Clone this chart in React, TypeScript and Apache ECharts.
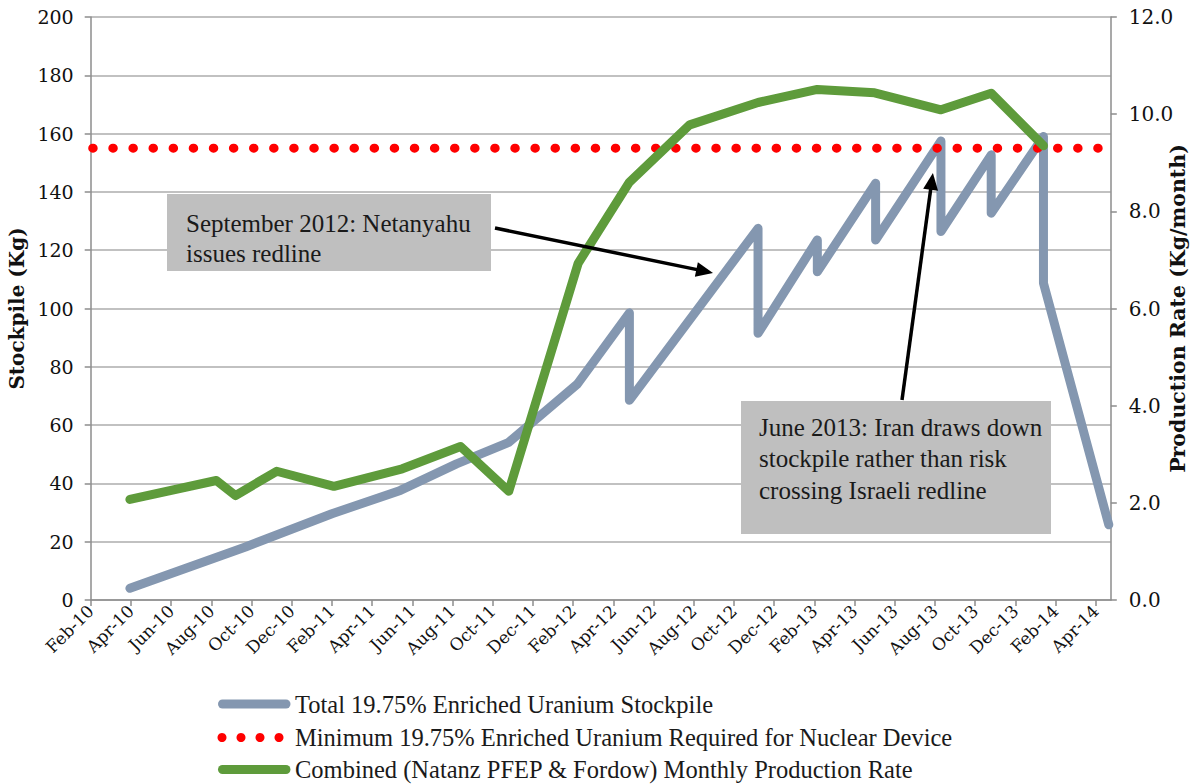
import React, { useEffect, useRef } from 'react';
import * as echarts from 'echarts';

// x positions are months elapsed since Feb-2010
const tickLabels = [
  'Feb-10', 'Apr-10', 'Jun-10', 'Aug-10', 'Oct-10', 'Dec-10',
  'Feb-11', 'Apr-11', 'Jun-11', 'Aug-11', 'Oct-11', 'Dec-11',
  'Feb-12', 'Apr-12', 'Jun-12', 'Aug-12', 'Oct-12', 'Dec-12',
  'Feb-13', 'Apr-13', 'Jun-13', 'Aug-13', 'Oct-13', 'Dec-13',
  'Feb-14', 'Apr-14',
];

const stockMonths = [1.95, 7.7, 12.0, 15.4, 18.2, 20.8, 24.2, 26.8, 26.8, 33.2, 33.2, 36.15, 36.15, 39.05, 39.05, 42.3, 42.3, 44.8, 44.8, 47.4, 47.4, 50.65];
const stockKg = [4.0, 18.2, 29.6, 37.6, 46.7, 54.1, 74.0, 98.5, 68.5, 127.5, 91.5, 123.5, 112.6, 143.0, 123.5, 157.5, 126.4, 152.7, 132.7, 159.0, 108.7, 25.8];

const rateMonths = [1.95, 6.25, 7.2, 9.25, 12.1, 15.5, 18.4, 20.8, 24.25, 26.8, 29.8, 33.2, 36.15, 39.0, 42.3, 44.8, 47.4];
const rateKgMonth = [2.07, 2.46, 2.15, 2.65, 2.34, 2.70, 3.16, 2.24, 6.93, 8.60, 9.78, 10.24, 10.51, 10.44, 10.09, 10.43, 9.35];

const thresholdMonths = [0, 50.75];
const thresholdKg = [155, 155];

const seriesNames = [
  'Total 19.75% Enriched Uranium Stockpile',
  'Minimum 19.75% Enriched Uranium Required for Nuclear Device',
  'Combined (Natanz PFEP & Fordow) Monthly Production Rate',
];

const annotation1 = ['September 2012: Netanyahu', 'issues redline'];
const annotation2 = ['June 2013: Iran draws down', 'stockpile rather than risk', 'crossing Israeli redline'];

const BLUE = '#8497B0';
const RED = '#FF0000';
const GREEN = '#5E9B3B';
const SERIF = 'Liberation Serif';
const AXISFONT = 'DejaVu Serif';

function zip(xs: number[], ys: number[]) {
  return xs.map((x, i) => [x, ys[i]]);
}

function arrow(from: number[], tip: number[], len = 17, half = 7.5) {
  const dx = tip[0] - from[0];
  const dy = tip[1] - from[1];
  const d = Math.sqrt(dx * dx + dy * dy);
  const ux = dx / d;
  const uy = dy / d;
  const bx = tip[0] - ux * len;
  const by = tip[1] - uy * len;
  return [
    {
      type: 'line',
      shape: { x1: from[0], y1: from[1], x2: bx + ux * 2, y2: by + uy * 2 },
      style: { stroke: '#000', lineWidth: 3.5 },
      z: 100,
    },
    {
      type: 'polygon',
      shape: {
        points: [
          [tip[0], tip[1]],
          [bx - uy * half, by + ux * half],
          [bx + uy * half, by - ux * half],
        ],
      },
      style: { fill: '#000' },
      z: 100,
    },
  ];
}

function textLines(lines: string[], x: number, y0: number, step: number) {
  return lines.map((t, i) => ({
    type: 'text',
    z: 101,
    style: {
      text: t,
      x,
      y: y0 + i * step,
      fill: '#1a1a1a',
      fontSize: 25,
      fontFamily: SERIF,
      textAlign: 'left',
      textVerticalAlign: 'middle',
      align: 'left',
      verticalAlign: 'middle',
    },
  }));
}

export default function App() {
  const ref = useRef<HTMLDivElement>(null);

  useEffect(() => {
    if (!ref.current) return;
    const chart = echarts.init(ref.current, undefined, { renderer: 'svg' });

    const option: any = {
      animation: false,
      backgroundColor: '#fff',
      textStyle: { fontFamily: AXISFONT },
      grid: { left: 90.7, right: 83.2, top: 17, bottom: 184, containLabel: false, outerBoundsMode: 'none' },
      xAxis: {
        type: 'value',
        min: 0,
        max: 50.75,
        interval: 2,
        splitLine: { show: false },
        axisLine: { show: true, lineStyle: { color: '#8C8C8C', width: 1.5 } },
        axisTick: { show: true, length: 6, lineStyle: { color: '#8C8C8C', width: 1.5 } },
        axisLabel: {
          rotate: 45,
          margin: 8,
          fontFamily: AXISFONT,
          fontSize: 17,
          color: '#111',
          showMaxLabel: false,
          formatter: (v: number) => {
            const i = Math.round(v / 2);
            return Math.abs(v - i * 2) < 1e-6 && i < tickLabels.length ? tickLabels[i] : '';
          },
        },
      },
      yAxis: [
        {
          type: 'value',
          min: 0,
          max: 200,
          interval: 20,
          position: 'left',
          name: 'Stockpile (Kg)',
          nameLocation: 'middle',
          nameRotate: 90,
          nameGap: 62,
          nameTextStyle: { fontFamily: AXISFONT, fontWeight: 'bold', fontSize: 20, color: '#111' },
          axisLine: { show: true, lineStyle: { color: '#8C8C8C', width: 1.5 } },
          axisTick: { show: true, length: 6, lineStyle: { color: '#8C8C8C', width: 1.5 } },
          splitLine: { show: true, lineStyle: { color: '#ADADAD', width: 1.5 } },
          axisLabel: { margin: 17, fontFamily: AXISFONT, fontSize: 19, color: '#111' },
        },
        {
          type: 'value',
          min: 0,
          max: 12,
          interval: 2,
          position: 'right',
          name: 'Production Rate (Kg/month)',
          nameLocation: 'middle',
          nameRotate: 90,
          nameGap: 57,
          nameMoveOverlap: false,
          nameTextStyle: { fontFamily: AXISFONT, fontWeight: 'bold', fontSize: 20.5, color: '#111' },
          axisLine: { show: true, lineStyle: { color: '#8C8C8C', width: 1.5 } },
          axisTick: { show: true, length: 6, lineStyle: { color: '#8C8C8C', width: 1.5 } },
          splitLine: { show: false },
          axisLabel: {
            margin: 18,
            fontFamily: AXISFONT,
            fontSize: 20,
            color: '#111',
            formatter: (v: number) => v.toFixed(1),
          },
        },
      ],
      series: [
        {
          name: seriesNames[0],
          type: 'line',
          yAxisIndex: 0,
          data: zip(stockMonths, stockKg),
          symbol: 'none',
          z: 2,
          lineStyle: { color: BLUE, width: 9, cap: 'round', join: 'round' },
        },
        {
          name: seriesNames[1],
          type: 'line',
          yAxisIndex: 0,
          data: zip(thresholdMonths, thresholdKg),
          symbol: 'none',
          z: 3,
          lineStyle: { color: RED, width: 9, type: [0.5, 19.6], cap: 'round', dashOffset: -2.5 },
        },
        {
          name: seriesNames[2],
          type: 'line',
          yAxisIndex: 1,
          data: zip(rateMonths, rateKgMonth),
          symbol: 'none',
          z: 4,
          lineStyle: { color: GREEN, width: 9, cap: 'round', join: 'round' },
        },
      ],
    };

    chart.setOption(option);

    const tip1 = chart.convertToPixel({ xAxisIndex: 0, yAxisIndex: 0 }, [30.96, 112.2]) as number[];
    const tip2 = chart.convertToPixel({ xAxisIndex: 0, yAxisIndex: 0 }, [41.9, 146.5]) as number[];

    const legendRows = [704, 737.5, 769.5];
    const legendGraphics: any[] = [
      {
        type: 'line',
        shape: { x1: 222.5, y1: legendRows[0], x2: 286, y2: legendRows[0] },
        style: { stroke: BLUE, lineWidth: 9, lineCap: 'round' },
      },
      ...[222, 241, 260, 279].map((cx) => ({
        type: 'circle',
        shape: { cx, cy: legendRows[1], r: 4.5 },
        style: { fill: RED },
      })),
      {
        type: 'line',
        shape: { x1: 222.5, y1: legendRows[2], x2: 286, y2: legendRows[2] },
        style: { stroke: GREEN, lineWidth: 9, lineCap: 'round' },
      },
      ...seriesNames.map((n, i) => ({
        type: 'text',
        style: {
          text: n,
          x: 295,
          y: legendRows[i],
          fill: '#1a1a1a',
          fontSize: 24.5,
          fontFamily: SERIF,
          textAlign: 'left',
          textVerticalAlign: 'middle',
          align: 'left',
          verticalAlign: 'middle',
        },
      })),
    ];

    chart.setOption({
      graphic: [
        { type: 'rect', z: 99, shape: { x: 167, y: 194, width: 324, height: 77 }, style: { fill: '#BFBFBF' } },
        ...textLines(annotation1, 186, 223, 30),
        { type: 'rect', z: 99, shape: { x: 741, y: 401, width: 310, height: 133 }, style: { fill: '#BFBFBF' } },
        ...textLines(annotation2, 759, 427, 31.5),
        ...arrow([495, 228], tip1),
        ...arrow([902, 400], tip2),
        ...legendGraphics,
      ],
    });

    return () => chart.dispose();
  }, []);

  return (
    <div
      ref={ref}
      style={{ position: 'fixed', left: 0, top: 0, width: 1194, height: 784, background: '#fff' }}
    />
  );
}
